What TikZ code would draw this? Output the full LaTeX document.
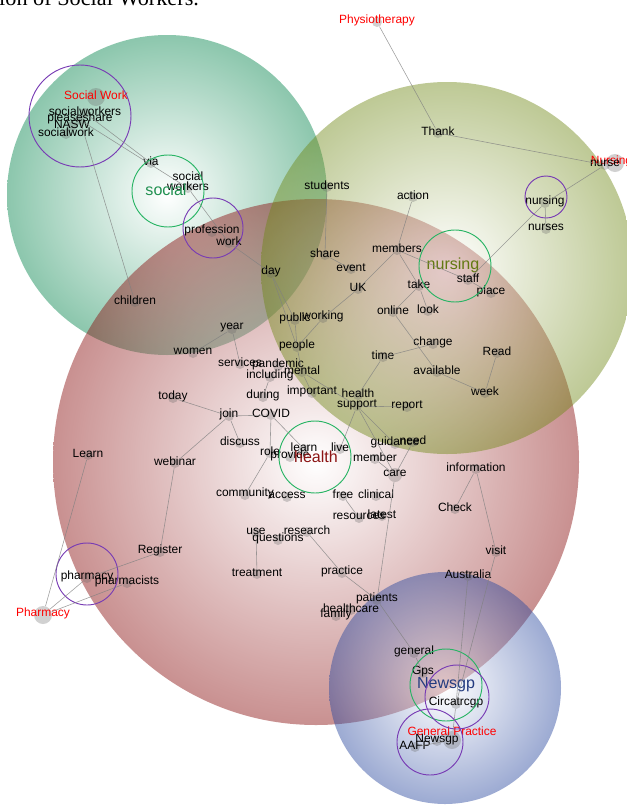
\documentclass[tikz,border=0pt]{standalone}
\usepackage{fontspec}
\setmainfont{Liberation Sans}
\newfontfamily\capfont{Liberation Serif}

\definecolor{grnclu}{RGB}{10,135,80}
\definecolor{olvclu}{RGB}{110,135,20}
\definecolor{redclu}{RGB}{140,20,20}
\definecolor{bluclu}{RGB}{45,75,160}
\definecolor{ringpur}{RGB}{120,60,180}
\definecolor{ringgrn}{RGB}{40,180,100}

\tikzset{
  wdot/.style={circle, inner sep=0pt, minimum size=0.3cm, fill=black!60, fill opacity=0.3},
  middot/.style={wdot, minimum size=0.42cm},
  bigdot/.style={wdot, minimum size=0.54cm},
  wlbl/.style={anchor=base, yshift=1.3pt, inner sep=0pt, opacity=1, text=black, font=\fontsize{10.2}{12}\selectfont},
  redlbl/.style={wlbl, text=red},
  clulbl/.style={inner sep=0pt, font=\fontsize{13.7}{16}\selectfont},
  wedge/.style={draw=black!50, line width=0.5pt, draw opacity=0.75},
  ringp/.style={draw=ringpur, line width=0.8pt},
  ringg/.style={draw=ringgrn, line width=0.8pt}
}

\begin{document}
\begin{tikzpicture}[x=0.03cm, y=-0.03cm]
\useasboundingbox (0,0) rectangle (627,805);
\clip (0,0) rectangle (627,805);
\node[anchor=base west, inner sep=0pt, font=\capfont\fontsize{19}{22}\selectfont] (capt) at (-1,5) {ion of Social Workers.};

% clusters
\shade[inner color=white, outer color=grnclu, opacity=0.47] (167,195) circle (160);
\shade[inner color=white, outer color=redclu, opacity=0.47] (316,462) circle (263);
\shade[inner color=white, outer color=olvclu, opacity=0.45] (447,268) circle (186);
\shade[inner color=white, outer color=bluclu, opacity=0.47] (445,688) circle (116);

% words
\node[bigdot, label={[redlbl]center:Social Work}] (socialworkred) at (96,97) {};
\node[wdot, label={[wlbl]center:socialworkers}] (socialworkers) at (85,113) {};
\node[wdot, label={[wlbl]center:pleaseshare}] (pleaseshare) at (80,120) {};
\node[wdot, label={[wlbl]center:NASW}] (nasw) at (72,126) {};
\node[wdot, label={[wlbl]center:socialwork}] (socialwork) at (66,134) {};
\node[wdot, label={[wlbl]center:via}] (via) at (151,163) {};
\node[wdot, label={[wlbl]center:workers}, label={[wlbl, yshift=8.5pt]center:social}] (socwk) at (188,188) {};
\node[wdot, label={[wlbl]center:children}] (children) at (135,302) {};
\node[wdot, label={[wlbl]center:profession}] (profession) at (212,232) {};
\node[wdot, label={[wlbl]center:work}] (work) at (229,243) {};
\node[wdot, label={[wlbl]center:day}] (day) at (271,273) {};
\node[wdot, label={[wlbl]center:students}] (students) at (327,187) {};
\node[wdot, label={[wlbl]center:action}] (action) at (413,197) {};
\node[wdot, label={[redlbl]center:Physiotherapy}] (physiored) at (377,22) {};
\node[wdot, label={[wlbl]center:Thank}] (thank) at (438,133) {};
\node[bigdot, label={[redlbl, xshift=-3pt]center:Nursing}] (nursingred) at (615,163) {};
\node[wdot, label={[wlbl]center:nurse}] (nurse) at (605,165) {};
\node[wdot, label={[wlbl]center:nursing}] (nursingw) at (545,203) {};
\node[wdot, label={[wlbl]center:nurses}] (nurses) at (546,229) {};
\node[wdot, label={[wlbl]center:members}] (members) at (397,250) {};
\node[wdot, label={[wlbl]center:share}] (share) at (325,255) {};
\node[wdot, label={[wlbl]center:event}] (event) at (351,269) {};
\node[wdot, label={[wlbl]center:UK}] (uk) at (358,289) {};
\node[wdot, label={[wlbl]center:take}] (take) at (419,286) {};
\node[wdot, label={[wlbl]center:staff}] (staff) at (468,280) {};
\node[wdot, label={[wlbl]center:place}] (place) at (491,293) {};
\node[wdot, label={[wlbl]center:online}] (online) at (393,312) {};
\node[wdot, label={[wlbl]center:look}] (look) at (428,311) {};
\node[wdot, label={[wlbl]center:public}] (public) at (295,320) {};
\node[wdot, label={[wlbl]center:working}] (working) at (323,318) {};
\node[wdot, label={[wlbl]center:people}] (people) at (297,347) {};
\node[wdot, label={[wlbl]center:change}] (change) at (433,344) {};
\node[wdot, label={[wlbl]center:Read}] (read) at (497,353) {};
\node[wdot, label={[wlbl]center:time}] (time) at (383,357) {};
\node[wdot, label={[wlbl]center:available}] (available) at (437,372) {};
\node[wdot, label={[wlbl]center:week}] (week) at (485,393) {};
\node[wdot, label={[wlbl]center:year}] (year) at (232,329) {};
\node[wdot, label={[wlbl]center:women}] (women) at (193,353) {};
\node[wdot, label={[wlbl]center:services}] (services) at (240,364) {};
\node[wdot, label={[wlbl]center:pandemic}] (pandemic) at (278,366) {};
\node[wdot, label={[wlbl]center:including}] (including) at (270,377) {};
\node[wdot, label={[wlbl]center:mental}] (mental) at (302,372) {};
\node[wdot, label={[wlbl]center:during}] (during) at (263,397) {};
\node[wdot, label={[wlbl]center:important}] (important) at (312,393) {};
\node[wdot, label={[wlbl]center:health}] (healthw) at (358,395) {};
\node[wdot, label={[wlbl]center:support}] (support) at (357,406) {};
\node[wdot, label={[wlbl]center:report}] (report) at (407,407) {};
\node[wdot, label={[wlbl]center:today}] (today) at (173,398) {};
\node[wdot, label={[wlbl]center:join}] (join) at (229,416) {};
\node[wdot, label={[wlbl]center:COVID}] (covid) at (271,415) {};
\node[wdot, label={[wlbl]center:Learn}] (learnbig) at (88,455) {};
\node[wdot, label={[wlbl]center:webinar}] (webinar) at (175,463) {};
\node[wdot, label={[wlbl]center:discuss}] (discuss) at (240,443) {};
\node[wdot, label={[wlbl]center:role}] (role) at (270,453) {};
\node[wdot, label={[wlbl]center:provide}] (provide) at (290,457) {};
\node[wdot, label={[wlbl]center:learn}] (learnw) at (304,449) {};
\node[wdot, label={[wlbl]center:live}] (live) at (340,449) {};
\node[wdot, label={[wlbl]center:member}] (member) at (375,459) {};
\node[wdot, label={[wlbl]center:guidance}] (guidance) at (395,444) {};
\node[wdot, label={[wlbl]center:need}] (need) at (413,442) {};
\node[middot, label={[wlbl]center:care}] (care) at (395,475) {};
\node[wdot, label={[wlbl]center:information}] (information) at (476,469) {};
\node[wdot, label={[wlbl]center:free}] (free) at (343,496) {};
\node[wdot, label={[wlbl]center:clinical}] (clinical) at (376,496) {};
\node[wdot, label={[wlbl]center:resources}] (resources) at (359,518) {};
\node[wdot, label={[wlbl]center:latest}] (latest) at (382,516) {};
\node[wdot, label={[wlbl]center:Check}] (check) at (455,509) {};
\node[wdot, label={[wlbl]center:community}] (community) at (245,495) {};
\node[wdot, label={[wlbl]center:access}] (access) at (287,497) {};
\node[wdot, label={[wlbl]center:research}] (research) at (307,532) {};
\node[wdot, label={[wlbl]center:use}] (use) at (256,533) {};
\node[wdot, label={[wlbl]center:questions}] (questions) at (278,540) {};
\node[wdot, label={[wlbl]center:treatment}] (treatment) at (257,574) {};
\node[wdot, label={[wlbl]center:visit}] (visit) at (496,552) {};
\node[wdot, label={[wlbl]center:Australia}] (australia) at (468,576) {};
\node[wdot, label={[wlbl]center:practice}] (practice) at (342,573) {};
\node[wdot, label={[wlbl]center:Register}] (register) at (160,552) {};
\node[wdot, label={[wlbl]center:pharmacy}] (pharmacyw) at (87,578) {};
\node[wdot, label={[wlbl]center:pharmacists}] (pharmacists) at (127,583) {};
\node[bigdot, label={[redlbl]center:Pharmacy}] (pharmacyred) at (43,615) {};
\node[wdot, label={[wlbl]center:patients}] (patients) at (377,600) {};
\node[wdot, label={[wlbl]center:healthcare}] (healthcare) at (351,610) {};
\node[wdot, label={[wlbl]center:family}] (family) at (336,616) {};
\node[wdot, label={[wlbl]center:general}] (general) at (414,653) {};
\node[wdot, label={[wlbl]center:Gps}] (gps) at (423,673) {};
\node[wdot, label={[wlbl]center:Circatrcgp}] (circatrcgp) at (456,704) {};
\node[bigdot, label={[redlbl, yshift=6pt]center:General Practice}] (gpred) at (452,740) {};
\node[wdot, label={[wlbl]center:Newsgp}] (newsgpw) at (437,741) {};
\node[wdot, label={[wlbl]center:AAFP}] (aafp) at (415,747) {};

% cluster names
\node[clulbl, text=ringgrn!80!black] (socialclu) at (166,190) {social};
\node[clulbl, text=olvclu!90!black] (nursingclu) at (453,265) {nursing};
\node[clulbl, text=redclu] (healthclu) at (316,457) {health};
\node[clulbl, text=bluclu!80!black] (newsgpclu) at (446,685) {Newsgp};

% rings
\draw[ringp] (80,116) circle (51);
\draw[ringg] (168,191) circle (36);
\draw[ringp] (213,228) circle (30);
\draw[ringp] (546,197) circle (21);
\draw[ringg] (455,266) circle (36);
\draw[ringg] (315,457) circle (36);
\draw[ringp] (87,574) circle (31);
\draw[ringg] (446,685) circle (36);
\draw[ringp] (457,697) circle (32);
\draw[ringp] (430,742) circle (33);

% links
\draw[wedge] (socialworkers) -- (via);
\draw[wedge] (pleaseshare) -- (socwk);
\draw[wedge] (pleaseshare) -- (children);
\draw[wedge] (socwk) -- (work);
\draw[wedge] (work) -- (day);
\draw[wedge] (day) -- (public);
\draw[wedge] (day) -- (people);
\draw[wedge] (physiored) -- (thank);
\draw[wedge] (thank) -- (nurse);
\draw[wedge] (nurse) -- (nursingw);
\draw[wedge] (nursingw) -- (nurses);
\draw[wedge] (nursingw) -- (staff);
\draw[wedge] (students) -- (share);
\draw[wedge] (share) -- (event);
\draw[wedge] (members) -- (action);
\draw[wedge] (members) -- (uk);
\draw[wedge] (members) -- (take);
\draw[wedge] (members) -- (staff);
\draw[wedge] (staff) -- (place);
\draw[wedge] (uk) -- (working);
\draw[wedge] (working) -- (people);
\draw[wedge] (public) -- (people);
\draw[wedge] (people) -- (mental);
\draw[wedge] (mental) -- (important);
\draw[wedge] (mental) -- (support);
\draw[wedge] (take) -- (online);
\draw[wedge] (take) -- (look);
\draw[wedge] (online) -- (available);
\draw[wedge] (time) -- (change);
\draw[wedge] (time) -- (healthw);
\draw[wedge] (available) -- (week);
\draw[wedge] (read) -- (week);
\draw[wedge] (year) -- (women);
\draw[wedge] (year) -- (services);
\draw[wedge] (including) -- (during);
\draw[wedge] (support) -- (report);
\draw[wedge] (support) -- (live);
\draw[wedge] (support) -- (guidance);
\draw[wedge] (support) -- (care);
\draw[wedge] (need) -- (care);
\draw[wedge] (member) -- (care);
\draw[wedge] (care) -- (patients);
\draw[wedge] (free) -- (resources);
\draw[wedge] (information) -- (check);
\draw[wedge] (information) -- (visit);
\draw[wedge] (today) -- (join);
\draw[wedge] (webinar) -- (join);
\draw[wedge] (discuss) -- (join);
\draw[wedge] (join) -- (covid);
\draw[wedge] (covid) -- (role);
\draw[wedge] (covid) -- (learnw);
\draw[wedge] (role) -- (community);
\draw[wedge] (webinar) -- (register);
\draw[wedge] (register) -- (pharmacyw);
\draw[wedge] (pharmacyred) -- (pharmacyw);
\draw[wedge] (pharmacyred) -- (pharmacists);
\draw[wedge] (pharmacyred) -- (learnbig);
\draw[wedge] (research) -- (practice);
\draw[wedge] (practice) -- (patients);
\draw[wedge] (use) -- (treatment);
\draw[wedge] (patients) -- (general);
\draw[wedge] (general) -- (gps);
\draw[wedge] (australia) -- (circatrcgp);
\draw[wedge] (visit) -- (circatrcgp);
\draw[wedge] (circatrcgp) -- (gpred);
\draw[wedge] (newsgpw) -- (gpred);
\draw[wedge] (aafp) -- (gpred);
\end{tikzpicture}
\end{document}
